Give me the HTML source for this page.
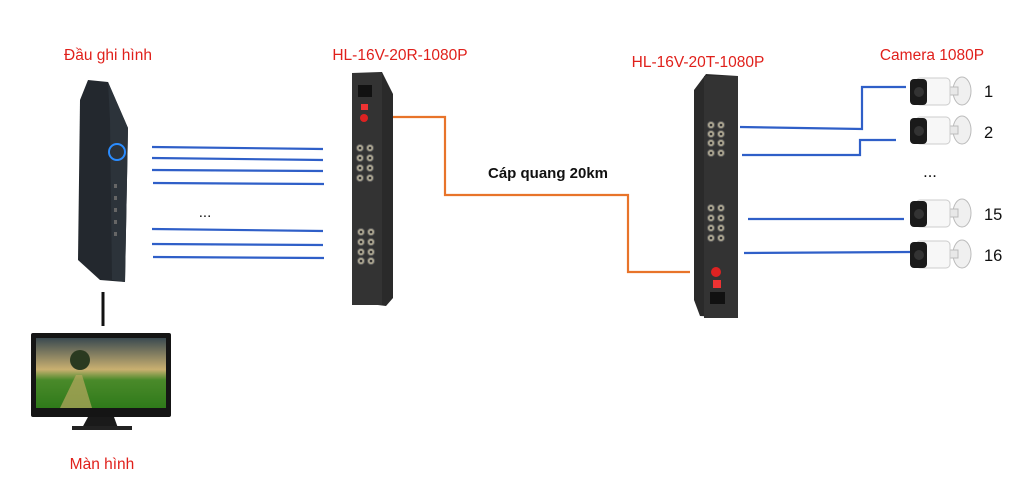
<!DOCTYPE html>
<html><head><meta charset="utf-8"><style>
html,body{margin:0;padding:0;background:#fff;}
svg{display:block;font-family:"Liberation Sans",sans-serif;}
</style></head><body>
<svg width="1024" height="502" viewBox="0 0 1024 502" xmlns="http://www.w3.org/2000/svg">
<defs>
<linearGradient id="sky" x1="0" y1="0" x2="0" y2="1">
<stop offset="0" stop-color="#3a4a50"/><stop offset="0.45" stop-color="#c9b070"/><stop offset="0.6" stop-color="#4a8a2a"/><stop offset="1" stop-color="#2f7a1a"/></linearGradient>
<g id="bnc"><circle r="3.6" fill="#a9a38f" stroke="#555" stroke-width="1"/><circle r="1.3" fill="#333"/></g>
<g id="cam">
<ellipse cx="52" cy="16" rx="9" ry="14" fill="#f0f0f0" stroke="#bbb"/>
<rect x="38" y="12" width="10" height="8" fill="#e8e8e8" stroke="#bbb"/>
<rect x="6" y="3" width="34" height="27" rx="4" fill="#f7f7f7" stroke="#ccc"/>
<rect x="0" y="4" width="17" height="26" rx="4" fill="#1a1a1a"/>
<circle cx="9" cy="17" r="5" fill="#333"/>
</g>
</defs>
<g fill="#e0201b" font-size="15.5">
<text x="108" y="60" text-anchor="middle">Đầu ghi hình</text>
<text x="400" y="60" text-anchor="middle">HL-16V-20R-1080P</text>
<text x="698" y="67" text-anchor="middle">HL-16V-20T-1080P</text>
<text x="932" y="60" text-anchor="middle">Camera 1080P</text>
<text x="102" y="469" text-anchor="middle">Màn hình</text>
</g>
<text x="548" y="178" text-anchor="middle" font-size="15" font-weight="bold" fill="#111">Cáp quang 20km</text>

<polygon points="88,80 108,82 128,128 125,282 100,280 78,260 80,100" fill="#23282e"/>
<polygon points="108,82 128,128 125,282 112,280 110,120" fill="#2c333a"/>
<circle cx="117" cy="152" r="8" fill="none" stroke="#2a8cff" stroke-width="2"/>
<g fill="#666"><rect x="114" y="184" width="3" height="4"/><rect x="114" y="196" width="3" height="4"/><rect x="114" y="208" width="3" height="4"/><rect x="114" y="220" width="3" height="4"/><rect x="114" y="232" width="3" height="4"/></g>
<line x1="103" y1="292" x2="103" y2="326" stroke="#111" stroke-width="3"/>

<rect x="31" y="333" width="140" height="84" rx="2" fill="#151515"/>
<rect x="36" y="338" width="130" height="70" fill="url(#sky)"/>
<path d="M60 408 L76 375 L82 375 L92 408Z" fill="#b8a860" opacity="0.7"/>
<circle cx="80" cy="360" r="10" fill="#2a3a20"/>
<polygon points="88,417 114,417 118,428 82,428" fill="#1a1a1a"/>
<rect x="72" y="426" width="60" height="4" fill="#222"/>

<g stroke="#2f5fc8" stroke-width="2.2" fill="none">
<line x1="152" y1="147" x2="323" y2="149"/>
<line x1="152" y1="158" x2="323" y2="160"/>
<line x1="152" y1="170" x2="323" y2="171"/>
<line x1="153" y1="183" x2="324" y2="184"/>
<line x1="152" y1="229" x2="323" y2="231"/>
<line x1="152" y1="244" x2="323" y2="245"/>
<line x1="153" y1="257" x2="324" y2="258"/>
</g>
<text x="205" y="217" text-anchor="middle" font-size="15" fill="#111">...</text>

<polygon points="352,73 382,72 393,94 393,298 386,306 353,302" fill="#2a2a2a"/>
<rect x="352" y="73" width="30" height="232" fill="#333"/>
<rect x="358" y="85" width="14" height="12" fill="#111"/>
<rect x="361" y="104" width="7" height="6" fill="#e33"/>
<circle cx="364" cy="118" r="4" fill="#d22"/>
<g>
<use href="#bnc" x="360" y="148"/><use href="#bnc" x="370" y="148"/>
<use href="#bnc" x="360" y="158"/><use href="#bnc" x="370" y="158"/>
<use href="#bnc" x="360" y="168"/><use href="#bnc" x="370" y="168"/>
<use href="#bnc" x="360" y="178"/><use href="#bnc" x="370" y="178"/>
<use href="#bnc" x="361" y="232"/><use href="#bnc" x="371" y="232"/>
<use href="#bnc" x="361" y="242"/><use href="#bnc" x="371" y="242"/>
<use href="#bnc" x="361" y="252"/><use href="#bnc" x="371" y="252"/>
<use href="#bnc" x="361" y="261"/><use href="#bnc" x="371" y="261"/>
</g>

<polyline points="393,117 445,117 445,195 628,195 628,272 690,272" fill="none" stroke="#e8742a" stroke-width="2.2"/>

<polygon points="694,90 706,74 738,76 738,318 700,316 694,300" fill="#2a2a2a"/>
<rect x="704" y="76" width="34" height="242" fill="#333"/>
<g>
<use href="#bnc" x="711" y="125"/><use href="#bnc" x="721" y="125"/>
<use href="#bnc" x="711" y="134"/><use href="#bnc" x="721" y="134"/>
<use href="#bnc" x="711" y="143"/><use href="#bnc" x="721" y="143"/>
<use href="#bnc" x="711" y="153"/><use href="#bnc" x="721" y="153"/>
<use href="#bnc" x="711" y="208"/><use href="#bnc" x="721" y="208"/>
<use href="#bnc" x="711" y="218"/><use href="#bnc" x="721" y="218"/>
<use href="#bnc" x="711" y="228"/><use href="#bnc" x="721" y="228"/>
<use href="#bnc" x="711" y="238"/><use href="#bnc" x="721" y="238"/>
</g>
<circle cx="716" cy="272" r="5" fill="#d22"/>
<rect x="713" y="280" width="8" height="8" fill="#e33"/>
<rect x="710" y="292" width="15" height="12" fill="#111"/>

<g stroke="#2f5fc8" stroke-width="2.2" fill="none">
<polyline points="740,127 862,129 862,87 906,87"/>
<polyline points="742,155 860,155 860,140 896,140"/>
<line x1="748" y1="219" x2="904" y2="219"/>
<line x1="744" y1="253" x2="910" y2="252"/>
</g>

<use href="#cam" x="910" y="75"/>
<use href="#cam" x="910" y="114"/>
<use href="#cam" x="910" y="197"/>
<use href="#cam" x="910" y="238"/>
<g font-size="16.5" fill="#111">
<text x="984" y="97">1</text>
<text x="984" y="138">2</text>
<text x="984" y="220">15</text>
<text x="984" y="261">16</text>
<text x="930" y="177" text-anchor="middle">...</text>
</g>
</svg>
</body></html>
